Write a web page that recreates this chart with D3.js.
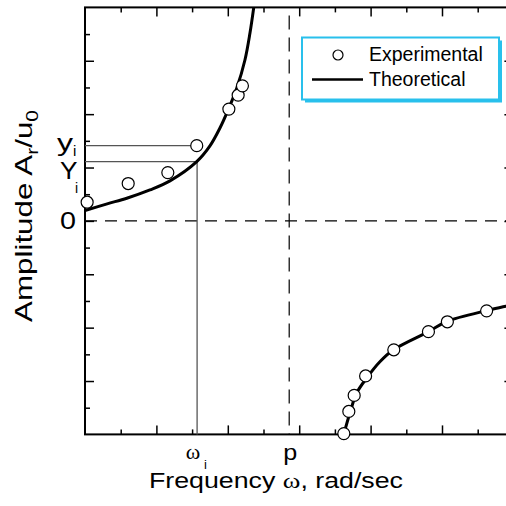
<!DOCTYPE html>
<html>
<head>
<meta charset="utf-8">
<script src="https://cdn.jsdelivr.net/npm/d3@7"></script>
<style>
  body { margin: 0; background: #fff; }
  svg { display: block; }
  text { font-family: "Liberation Sans", Arial, Helvetica, sans-serif; fill: #000; }
</style>
</head>
<body>
<svg id="chart" width="506" height="506"></svg>
<script>
// data (x in tick units, y in A/u0 units)

let expLowX  = [0.06, 1.21, 2.32, 3.13, 4.03, 4.29, 4.41];
let expLowY  = [0.70, 1.40, 1.81, 2.82, 4.19, 4.71, 5.06];
let expHighX = [7.25, 7.39, 7.54, 7.86, 8.65, 9.62, 10.15, 11.25];
let expHighY = [-7.97, -7.14, -6.54, -5.81, -4.83, -4.15, -3.78, -3.37];

let theoLowX  = [0, 0.62, 1.17, 1.82, 2.38, 3.13, 3.50, 3.78, 4.01, 4.25, 4.48, 4.62, 4.73];
let theoLowY  = [0.39, 0.64, 0.85, 1.16, 1.50, 2.22, 2.81, 3.48, 4.16, 4.97, 6.03, 7.03, 8.03];
let theoHighX = [7.25, 7.42, 7.61, 7.89, 8.26, 8.64, 9.62, 10.13, 11.25, 11.79, 12.0];
let theoHighY = [-7.99, -7.20, -6.45, -5.89, -5.28, -4.83, -4.15, -3.77, -3.36, -3.20, -3.13];

let omegaI = 3.14;   // marked frequency
let pFreq = 5.72;    // natural frequency p
let smallYI = 2.82;  // y_i
let bigYI = 2.22;    // Y_i

let xMajorTicks = [2, 4, 6, 8, 10];
let xMinorTicks = [1, 3, 5, 7, 9, 11];
let yMajorTicks = [-6, -4, -2, 0, 2, 4, 6];
let yMinorTicks = [-7, -5, -3, -1, 1, 3, 5, 7];

let legendLabels = ["Experimental", "Theoretical"];

// layout

let margin = { left: 85, top: 7.4, right: 513.4, bottom: 434.4 };
let svg = d3.select("#chart");

let x = d3.scaleLinear().domain([0, 12]).range([margin.left, margin.right]);
let y = d3.scaleLinear().domain([-8, 8]).range([margin.bottom, margin.top]);

function translate(a, b) { return "translate(" + a + "," + b + ")"; }

svg.append("clipPath").attr("id", "plotClip")
   .append("rect")
   .attr("x", margin.left).attr("y", margin.top)
   .attr("width", margin.right - margin.left)
   .attr("height", margin.bottom - margin.top);

// ticks (all pointing inward)

function drawTicks(axisFn, ticks, size, tx, ty) {
    let g = svg.append("g")
               .attr("transform", translate(tx, ty))
               .call(axisFn.tickValues(ticks).tickSize(size).tickFormat(""));
    g.select(".domain").remove();
    g.selectAll("line").attr("stroke", "#000").attr("stroke-width", 1.5);
}

drawTicks(d3.axisTop(x), xMajorTicks, 9, 0, margin.bottom);
drawTicks(d3.axisTop(x), xMinorTicks, 5, 0, margin.bottom);
drawTicks(d3.axisBottom(x), xMajorTicks, 9, 0, margin.top);
drawTicks(d3.axisBottom(x), xMinorTicks, 5, 0, margin.top);
drawTicks(d3.axisRight(y), yMajorTicks, 9, margin.left, 0);
drawTicks(d3.axisRight(y), yMinorTicks, 5, margin.left, 0);
drawTicks(d3.axisLeft(y), yMajorTicks, 9, margin.right, 0);
drawTicks(d3.axisLeft(y), yMinorTicks, 5, margin.right, 0);

// frame
svg.append("rect")
   .attr("x", margin.left).attr("y", margin.top)
   .attr("width", margin.right - margin.left)
   .attr("height", margin.bottom - margin.top)
   .attr("fill", "none").attr("stroke", "#000").attr("stroke-width", 2);

// dashed reference lines
svg.append("line")
   .attr("x1", x(0)).attr("x2", x(12)).attr("y1", y(0)).attr("y2", y(0))
   .attr("stroke", "#000").attr("stroke-width", 1.2).attr("stroke-dasharray", "12,8");
svg.append("line")
   .attr("x1", x(pFreq)).attr("x2", x(pFreq)).attr("y1", y(7.7)).attr("y2", y(-8))
   .attr("stroke", "#000").attr("stroke-width", 1.2).attr("stroke-dasharray", "14,8");

// grey construction lines for y_i, Y_i, omega_i
let guide = svg.append("g").attr("stroke", "#555").attr("stroke-width", 1.3);
guide.append("line").attr("x1", x(0)).attr("x2", x(omegaI)).attr("y1", y(smallYI)).attr("y2", y(smallYI));
guide.append("line").attr("x1", x(0)).attr("x2", x(omegaI)).attr("y1", y(bigYI)).attr("y2", y(bigYI));
guide.append("line").attr("x1", x(omegaI)).attr("x2", x(omegaI)).attr("y1", y(bigYI)).attr("y2", y(-8));

// theoretical curves
let line = d3.line()
             .x(d => x(d[0]))
             .y(d => y(d[1]))
             .curve(d3.curveCatmullRom);

let curves = svg.append("g").attr("clip-path", "url(#plotClip)");
curves.append("path")
      .attr("d", line(d3.zip(theoLowX, theoLowY)))
      .attr("fill", "none").attr("stroke", "#000").attr("stroke-width", 3);
curves.append("path")
      .attr("d", line(d3.zip(theoHighX, theoHighY)))
      .attr("fill", "none").attr("stroke", "#000").attr("stroke-width", 3);

// experimental points
let pts = d3.zip(expLowX, expLowY).concat(d3.zip(expHighX, expHighY));
svg.append("g").selectAll("circle")
   .data(pts)
   .join("circle")
   .attr("cx", d => x(d[0]))
   .attr("cy", d => y(d[1]))
   .attr("r", 6)
   .attr("fill", "#fff").attr("stroke", "#000").attr("stroke-width", 1.2);

// tick labels (the source lettering is a bit wide, hence textLength)
function label(tx, ty, size, str, len) {
    let t = svg.append("text").attr("x", tx).attr("y", ty).attr("font-size", size).text(str);
    if (len) t.attr("textLength", len).attr("lengthAdjust", "spacingAndGlyphs");
    return t;
}

label(60, y(0) + 8.5, 24, "0", 16);
label(57, 151, 24, "y", 16);
label(73, 156, 15, "i");
label(60, 179, 24, "Y", 17.5);
label(75, 193, 14, "i");

svg.append("text").attr("x", x(omegaI) - 4).attr("y", 459).attr("text-anchor", "middle")
   .attr("font-size", 22).style("font-family", "'Liberation Serif', 'Times New Roman', serif")
   .text("ω");
label(x(omegaI) + 7, 469, 13, "i");
label(x(pFreq) - 6, 460, 22, "p", 14);

// axis titles
let xt = svg.append("text").attr("x", 149).attr("y", 488)
            .attr("font-size", 22).attr("textLength", 254).attr("lengthAdjust", "spacingAndGlyphs");
xt.append("tspan").text("Frequency ");
xt.append("tspan").style("font-family", "'Liberation Serif', 'Times New Roman', serif").text("ω");
xt.append("tspan").text(", rad/sec");

let yt = svg.append("text")
            .attr("transform", "translate(32,322) rotate(-90)")
            .attr("font-size", 24)
            .attr("textLength", 212).attr("lengthAdjust", "spacingAndGlyphs");
yt.append("tspan").text("Amplitude A");
yt.append("tspan").attr("font-size", 16).attr("dy", 6).text("r");
yt.append("tspan").attr("dy", -6).text("/u");
yt.append("tspan").attr("font-size", 16).attr("dy", 6).text("0");

// legend
let legend = svg.append("g").attr("transform", translate(302, 37.5));
legend.append("rect").attr("x", 3).attr("y", 3).attr("width", 197).attr("height", 62)
      .attr("fill", "#29c0ec");
legend.append("rect").attr("x", 0).attr("y", 0).attr("width", 197).attr("height", 62)
      .attr("fill", "#fff").attr("stroke", "#29c0ec").attr("stroke-width", 2);
legend.append("circle").attr("cx", 36).attr("cy", 17.5).attr("r", 5)
      .attr("fill", "#fff").attr("stroke", "#000").attr("stroke-width", 1.2);
legend.append("line").attr("x1", 10).attr("x2", 61).attr("y1", 42).attr("y2", 42)
      .attr("stroke", "#000").attr("stroke-width", 2.5);
legend.selectAll("text.lab")
      .data(legendLabels)
      .join("text")
      .attr("class", "lab")
      .attr("x", 67)
      .attr("y", (d, i) => 23.5 + i * 24.5)
      .attr("font-size", 19.5)
      .text(d => d);
</script>
</body>
</html>
